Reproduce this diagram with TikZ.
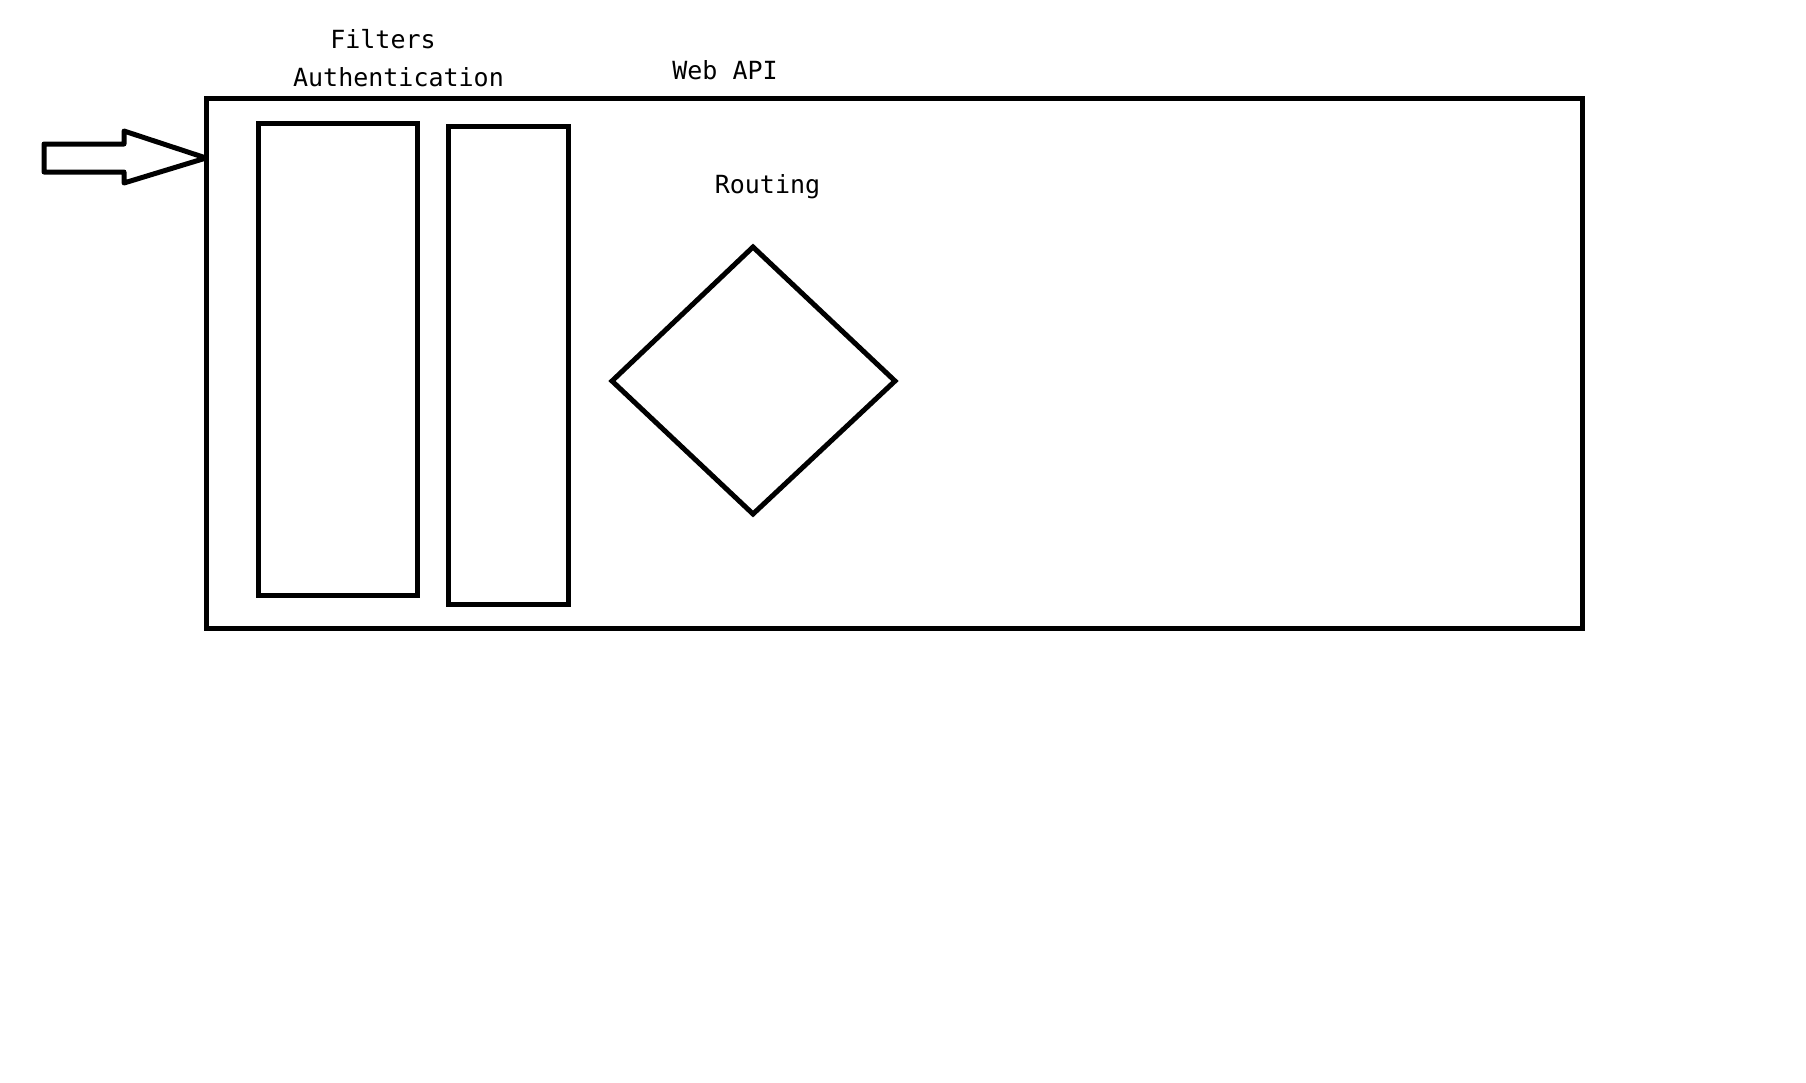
\documentclass[tikz,border=0pt]{standalone}
\usepackage{fontspec}
\setmonofont{DejaVu Sans Mono}
\begin{document}
\begin{tikzpicture}[x=1pt,y=-1pt,
  box/.style={draw=black,line width=5pt,rectangle,inner sep=0pt,outer sep=0pt},
  lbl/.style={font=\ttfamily\fontsize{25}{30}\selectfont,anchor=base,inner sep=0pt}]
\useasboundingbox[fill=white] (0,0) rectangle (1806,1082);
% outer Web API box
\node[box,minimum width=1376pt,minimum height=530pt] (api) at (894,363) {};
% filter boxes
\node[box,minimum width=159pt,minimum height=472pt] (filt) at (337.5,359) {};
\node[box,minimum width=120pt,minimum height=478pt] (auth) at (508,365) {};
% routing diamond
\coordinate (dt) at (753,247);
\coordinate (dl) at (612,381);
\coordinate (db) at (753,514);
\coordinate (dr) at (895,381);
\draw[line width=5pt,line join=miter] (dt) -- (dr) -- (db) -- (dl) -- cycle;
% incoming arrow
\coordinate (tip) at (206,158);
\draw[line width=5pt,line join=round] (44,144) -- (124,144) -- (124,131) -- (tip) -- (124,183) -- (124,172) -- (44,172) -- cycle;
% labels
\node[lbl] (lfilters) at (383,48) {Filters};
\node[lbl] (lauth) at (398.5,86) {Authentication};
\node[lbl] (lapi) at (725,79) {Web API};
\node[lbl] (lrouting) at (767.5,193) {Routing};
\end{tikzpicture}
\end{document}
